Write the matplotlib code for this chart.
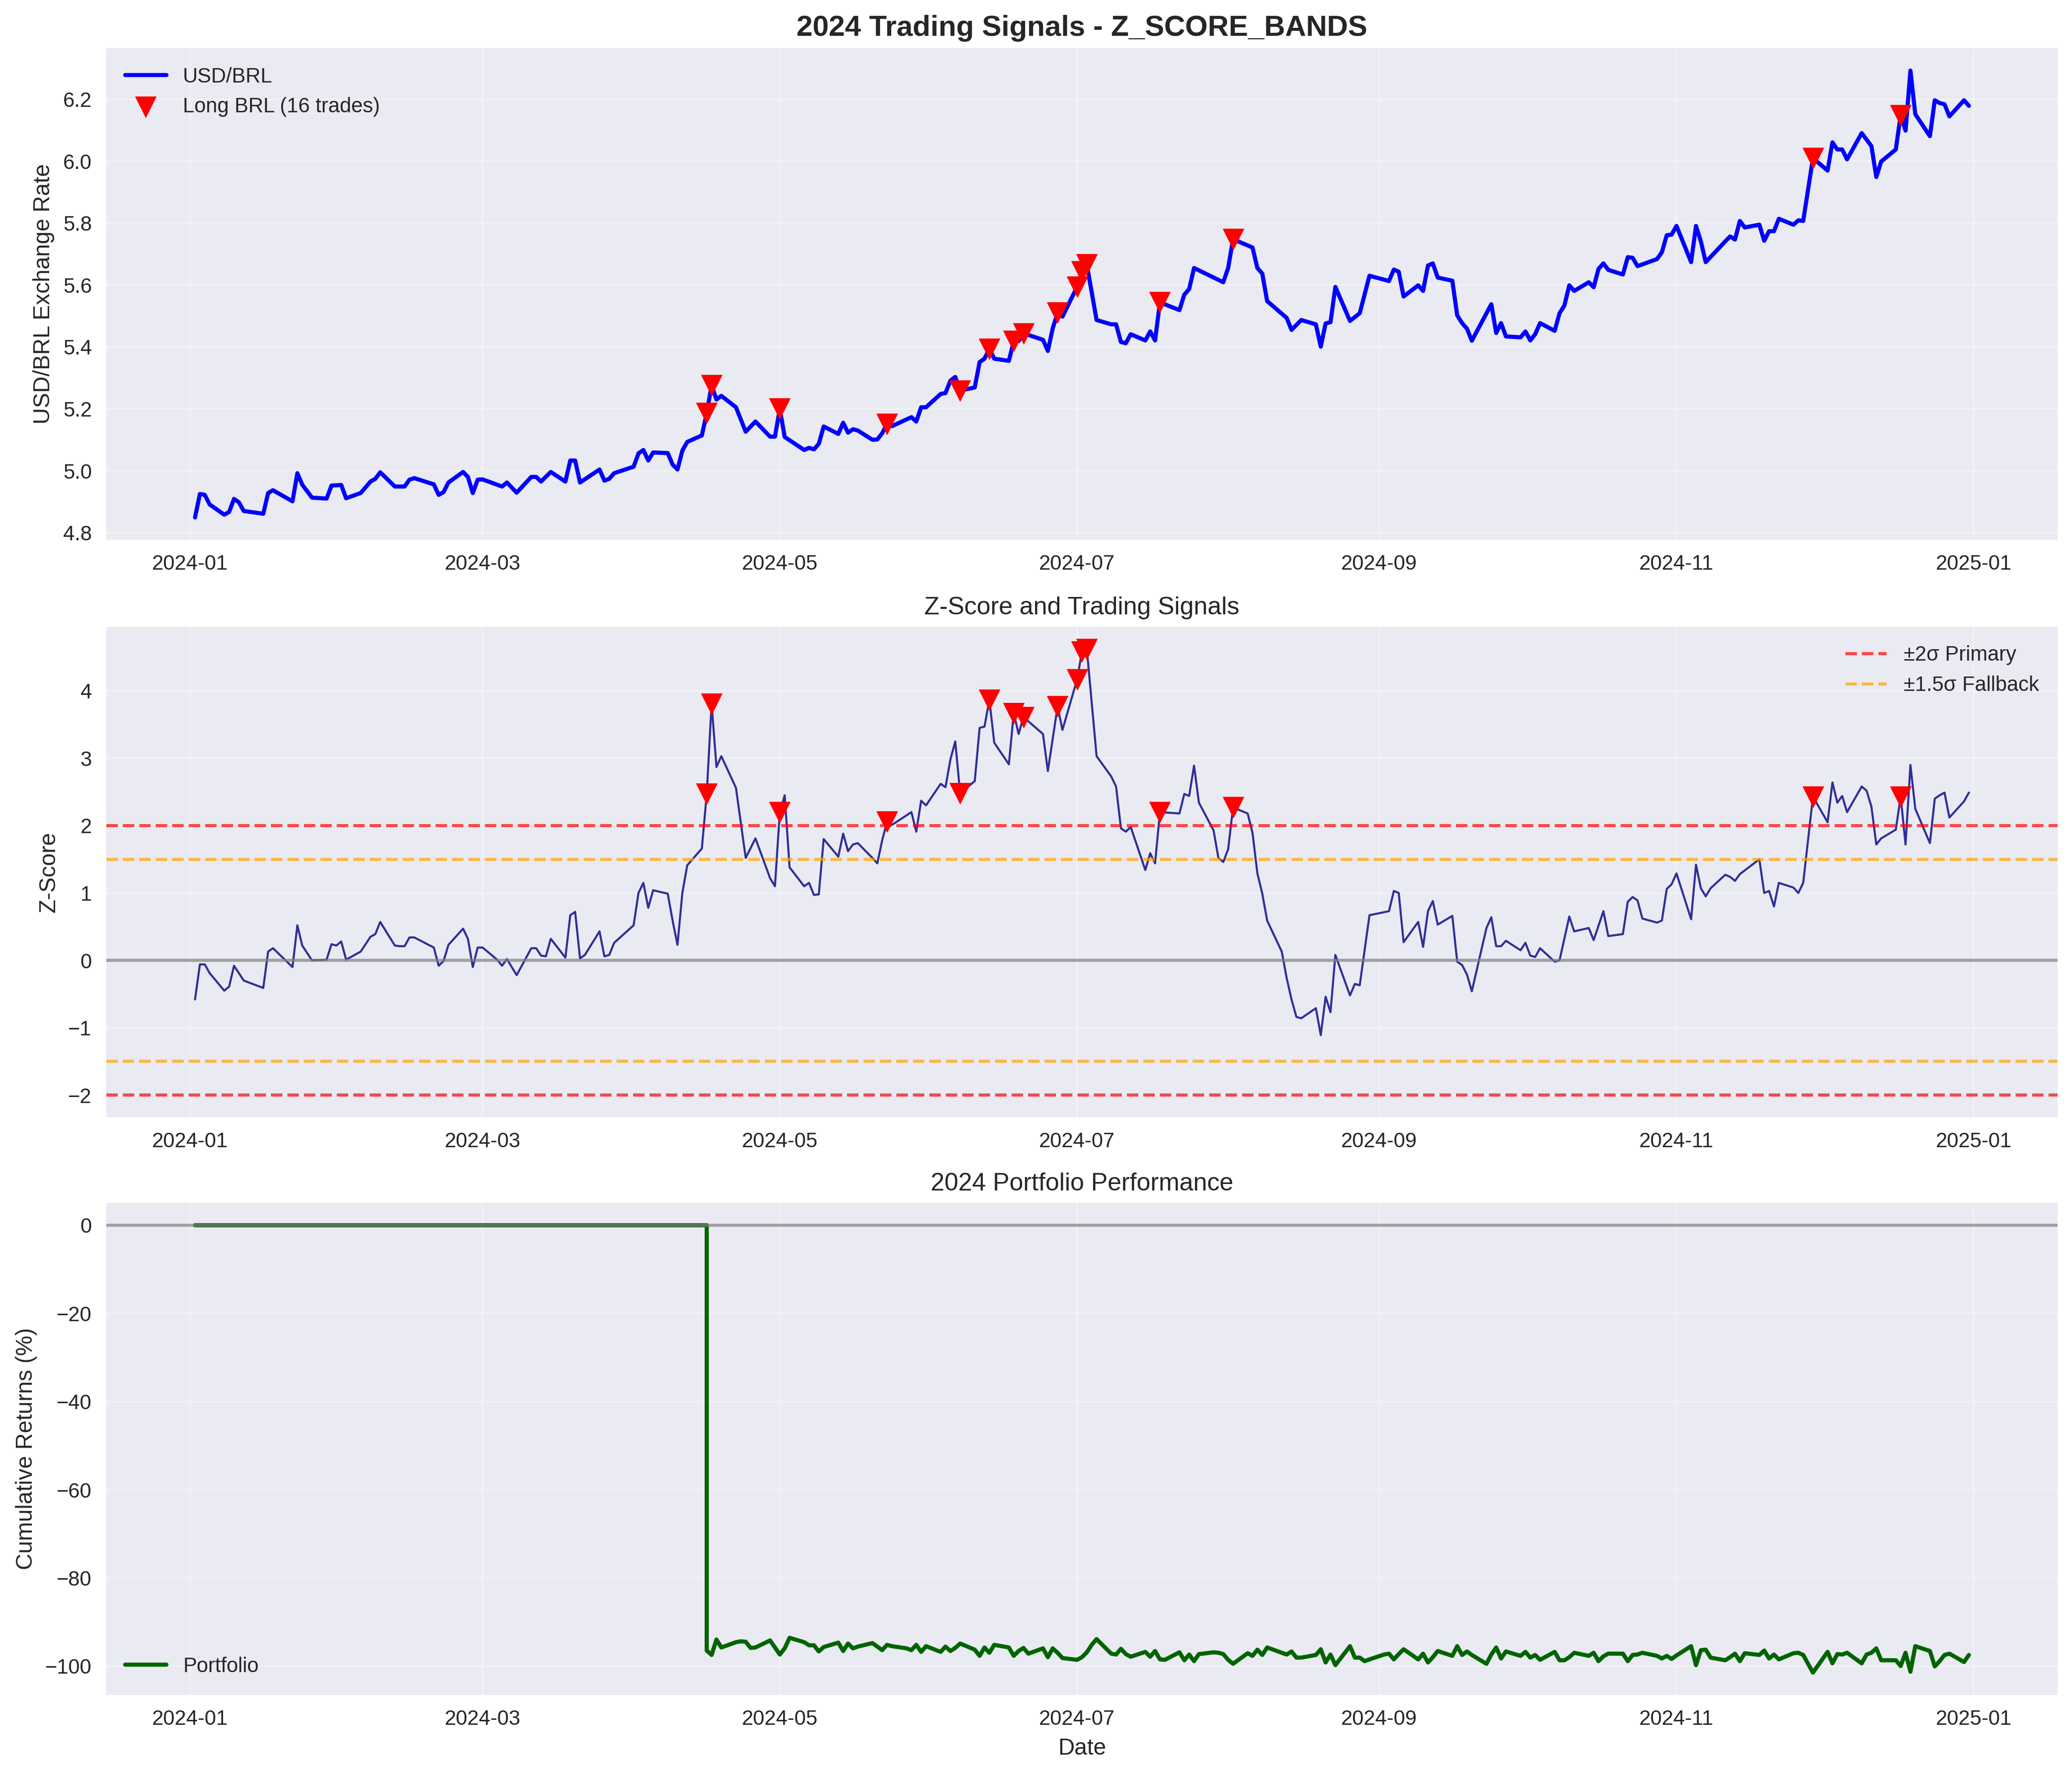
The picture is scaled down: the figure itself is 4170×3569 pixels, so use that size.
import matplotlib
matplotlib.use("Agg")
import matplotlib.pyplot as plt
import matplotlib.dates as mdates
import pandas as pd

plt.style.use("seaborn-v0_8")
plt.rcParams["font.family"] = ["Liberation Sans", "DejaVu Sans"]

# ---------------- data ----------------
price_dates = [
    "01-02", "01-03", "01-04", "01-05", "01-08", "01-09", "01-10", "01-11", "01-12", "01-16",
    "01-17", "01-18", "01-22", "01-23", "01-24", "01-26", "01-29", "01-30", "02-01", "02-02",
    "02-05", "02-07", "02-08", "02-09", "02-12", "02-14", "02-15", "02-16", "02-20", "02-21",
    "02-22", "02-23", "02-26", "02-27", "02-28", "02-29", "03-01", "03-05", "03-06", "03-08",
    "03-11", "03-12", "03-13", "03-15", "03-18", "03-19", "03-20", "03-21", "03-25", "03-26",
    "03-27", "03-28", "04-01", "04-02", "04-03", "04-04", "04-05", "04-08", "04-09", "04-10",
    "04-11", "04-12", "04-15", "04-16", "04-17", "04-18", "04-19", "04-22", "04-24", "04-26",
    "04-29", "04-30", "05-01", "05-02", "05-06", "05-07", "05-08", "05-09", "05-10", "05-13",
    "05-14", "05-15", "05-16", "05-17", "05-20", "05-21", "05-22", "05-23", "05-24", "05-28",
    "05-29", "05-30", "05-31", "06-03", "06-04", "06-05", "06-06", "06-07", "06-10", "06-11",
    "06-12", "06-13", "06-14", "06-17", "06-18", "06-19", "06-20", "06-24", "06-25", "06-26",
    "06-27", "06-28", "07-01", "07-02", "07-03", "07-05", "07-08", "07-09", "07-10", "07-11",
    "07-12", "07-15", "07-16", "07-17", "07-18", "07-22", "07-23", "07-24", "07-25", "07-31",
    "08-01", "08-02", "08-05", "08-06", "08-07", "08-08", "08-09", "08-13", "08-14", "08-16",
    "08-19", "08-20", "08-21", "08-22", "08-23", "08-26", "08-28", "08-30", "09-03", "09-04",
    "09-05", "09-06", "09-09", "09-10", "09-11", "09-12", "09-13", "09-16", "09-17", "09-18",
    "09-19", "09-20", "09-24", "09-25", "09-26", "09-27", "09-30", "10-01", "10-02", "10-03",
    "10-04", "10-07", "10-08", "10-09", "10-10", "10-11", "10-14", "10-15", "10-16", "10-17",
    "10-18", "10-21", "10-22", "10-23", "10-24", "10-28", "10-29", "10-30", "10-31", "11-01",
    "11-04", "11-05", "11-06", "11-07", "11-11", "11-12", "11-13", "11-14", "11-15", "11-18",
    "11-19", "11-20", "11-21", "11-22", "11-25", "11-26", "11-27", "11-29", "12-02", "12-03",
    "12-04", "12-05", "12-06", "12-09", "12-10", "12-11", "12-12", "12-13", "12-16", "12-17",
    "12-18", "12-19", "12-20", "12-23", "12-24", "12-25", "12-26", "12-27", "12-30", "12-31",
]
price_values = [
    4.849, 4.925, 4.922, 4.891, 4.858, 4.867, 4.909, 4.898, 4.870, 4.861,
    4.928, 4.937, 4.901, 4.992, 4.955, 4.913, 4.910, 4.952, 4.954, 4.911,
    4.928, 4.965, 4.974, 4.995, 4.949, 4.949, 4.971, 4.976, 4.956, 4.922,
    4.931, 4.962, 4.996, 4.980, 4.928, 4.971, 4.972, 4.949, 4.962, 4.929,
    4.980, 4.980, 4.965, 4.996, 4.965, 5.033, 5.033, 4.962, 5.004, 4.968,
    4.974, 4.992, 5.013, 5.056, 5.067, 5.033, 5.059, 5.057, 5.020, 5.004,
    5.065, 5.093, 5.114, 5.186, 5.276, 5.230, 5.242, 5.205, 5.126, 5.159,
    5.110, 5.110, 5.200, 5.109, 5.067, 5.074, 5.069, 5.087, 5.143, 5.119,
    5.155, 5.123, 5.134, 5.130, 5.100, 5.101, 5.121, 5.151, 5.144, 5.173,
    5.159, 5.205, 5.205, 5.248, 5.251, 5.291, 5.303, 5.259, 5.269, 5.351,
    5.362, 5.394, 5.362, 5.355, 5.419, 5.419, 5.444, 5.423, 5.387, 5.460,
    5.510, 5.498, 5.594, 5.644, 5.666, 5.487, 5.473, 5.473, 5.416, 5.412,
    5.441, 5.421, 5.450, 5.421, 5.544, 5.519, 5.569, 5.587, 5.655, 5.609,
    5.655, 5.748, 5.728, 5.721, 5.655, 5.637, 5.548, 5.494, 5.455, 5.487,
    5.473, 5.401, 5.476, 5.480, 5.594, 5.484, 5.509, 5.630, 5.613, 5.650,
    5.643, 5.563, 5.599, 5.581, 5.663, 5.670, 5.624, 5.614, 5.502, 5.477,
    5.459, 5.420, 5.538, 5.445, 5.477, 5.434, 5.431, 5.450, 5.421, 5.441,
    5.477, 5.452, 5.509, 5.534, 5.599, 5.581, 5.609, 5.593, 5.652, 5.670,
    5.649, 5.634, 5.690, 5.688, 5.661, 5.684, 5.706, 5.761, 5.763, 5.791,
    5.674, 5.791, 5.741, 5.674, 5.741, 5.757, 5.747, 5.807, 5.786, 5.795,
    5.743, 5.774, 5.774, 5.814, 5.795, 5.809, 5.807, 6.010, 5.970, 6.061,
    6.038, 6.038, 6.006, 6.091, 6.070, 6.049, 5.949, 5.999, 6.038, 6.149,
    6.099, 6.293, 6.152, 6.081, 6.197, 6.188, 6.184, 6.145, 6.197, 6.179,
]

z_dates = [
    "01-02", "01-03", "01-04", "01-05", "01-08", "01-09", "01-10", "01-11", "01-12", "01-16",
    "01-17", "01-18", "01-22", "01-23", "01-24", "01-26", "01-29", "01-30", "01-31", "02-01",
    "02-02", "02-05", "02-07", "02-08", "02-09", "02-12", "02-13", "02-14", "02-15", "02-16",
    "02-20", "02-21", "02-22", "02-23", "02-26", "02-27", "02-28", "02-29", "03-01", "03-04",
    "03-05", "03-06", "03-08", "03-11", "03-12", "03-13", "03-14", "03-15", "03-18", "03-19",
    "03-20", "03-21", "03-22", "03-25", "03-26", "03-27", "03-28", "04-01", "04-02", "04-03",
    "04-04", "04-05", "04-08", "04-09", "04-10", "04-11", "04-12", "04-15", "04-16", "04-17",
    "04-18", "04-19", "04-22", "04-24", "04-26", "04-29", "04-30", "05-01", "05-02", "05-03",
    "05-06", "05-07", "05-08", "05-09", "05-10", "05-13", "05-14", "05-15", "05-16", "05-17",
    "05-20", "05-21", "05-22", "05-23", "05-24", "05-28", "05-29", "05-30", "05-31", "06-03",
    "06-04", "06-05", "06-06", "06-07", "06-10", "06-11", "06-12", "06-13", "06-14", "06-17",
    "06-18", "06-19", "06-20", "06-24", "06-25", "06-27", "06-28", "07-01", "07-02", "07-03",
    "07-05", "07-08", "07-09", "07-10", "07-11", "07-12", "07-15", "07-16", "07-17", "07-18",
    "07-22", "07-23", "07-24", "07-25", "07-26", "07-29", "07-30", "07-31", "08-01", "08-02",
    "08-05", "08-06", "08-07", "08-08", "08-09", "08-12", "08-13", "08-14", "08-15", "08-16",
    "08-19", "08-20", "08-21", "08-22", "08-23", "08-26", "08-27", "08-28", "08-30", "09-03",
    "09-04", "09-05", "09-06", "09-09", "09-10", "09-11", "09-12", "09-13", "09-16", "09-17",
    "09-18", "09-19", "09-20", "09-23", "09-24", "09-25", "09-26", "09-27", "09-30", "10-01",
    "10-02", "10-03", "10-04", "10-07", "10-08", "10-10", "10-11", "10-14", "10-15", "10-17",
    "10-18", "10-21", "10-22", "10-23", "10-24", "10-25", "10-28", "10-29", "10-30", "10-31",
    "11-01", "11-04", "11-05", "11-06", "11-07", "11-08", "11-11", "11-12", "11-13", "11-14",
    "11-18", "11-19", "11-20", "11-21", "11-22", "11-25", "11-26", "11-27", "11-29", "12-02",
    "12-03", "12-04", "12-05", "12-06", "12-09", "12-10", "12-11", "12-12", "12-13", "12-16",
    "12-17", "12-18", "12-19", "12-20", "12-23", "12-24", "12-25", "12-26", "12-27", "12-30",
    "12-31",
]
z_values = [
    -0.58, -0.06, -0.06, -0.19, -0.45, -0.39, -0.08, -0.19, -0.30, -0.41,
    0.13, 0.18, -0.10, 0.52, 0.22, 0.00, 0.01, 0.24, 0.22, 0.28,
    0.01, 0.13, 0.35, 0.39, 0.57, 0.22, 0.21, 0.21, 0.34, 0.34,
    0.19, -0.08, -0.01, 0.23, 0.47, 0.32, -0.10, 0.19, 0.19, 0.01,
    -0.08, 0.02, -0.22, 0.18, 0.18, 0.07, 0.06, 0.32, 0.04, 0.67,
    0.72, 0.03, 0.08, 0.43, 0.06, 0.08, 0.26, 0.52, 1.00, 1.15,
    0.78, 1.04, 0.99, 0.59, 0.23, 1.00, 1.41, 1.66, 2.47, 3.81,
    2.87, 3.03, 2.56, 1.52, 1.81, 1.22, 1.10, 2.20, 2.45, 1.38,
    1.10, 1.15, 0.97, 0.98, 1.80, 1.54, 1.88, 1.62, 1.72, 1.74,
    1.52, 1.44, 1.78, 2.06, 2.01, 2.20, 1.91, 2.37, 2.30, 2.62,
    2.57, 2.98, 3.25, 2.48, 2.66, 3.45, 3.47, 3.87, 3.23, 2.91,
    3.67, 3.36, 3.61, 3.36, 2.81, 3.77, 3.42, 4.17, 4.58, 4.62,
    3.03, 2.73, 2.58, 1.96, 1.91, 1.98, 1.34, 1.59, 1.44, 2.20,
    2.18, 2.47, 2.44, 2.89, 2.34, 1.93, 1.52, 1.46, 1.65, 2.27,
    2.18, 1.89, 1.29, 0.99, 0.59, 0.13, -0.26, -0.58, -0.84, -0.86,
    -0.71, -1.11, -0.54, -0.77, 0.08, -0.52, -0.35, -0.37, 0.67, 0.73,
    1.03, 1.00, 0.27, 0.57, 0.20, 0.73, 0.88, 0.53, 0.66, -0.02,
    -0.07, -0.21, -0.46, 0.48, 0.64, 0.21, 0.21, 0.29, 0.15, 0.26,
    0.07, 0.05, 0.18, -0.02, 0.00, 0.65, 0.43, 0.48, 0.30, 0.73,
    0.36, 0.39, 0.87, 0.94, 0.89, 0.62, 0.56, 0.59, 1.06, 1.13,
    1.29, 0.61, 1.42, 1.07, 0.95, 1.07, 1.27, 1.24, 1.18, 1.28,
    1.50, 1.00, 1.03, 0.80, 1.15, 1.08, 1.00, 1.15, 2.43, 2.05,
    2.64, 2.34, 2.44, 2.20, 2.58, 2.52, 2.28, 1.72, 1.81, 1.94,
    2.43, 1.72, 2.90, 2.25, 1.74, 2.40, 2.45, 2.49, 2.12, 2.36,
    2.49,
]

port_dates = [
    "01-02", "04-16", "04-16", "04-17", "04-18", "04-19", "04-22", "04-23", "04-24", "04-25",
    "04-26", "04-29", "04-30", "05-01", "05-02", "05-03", "05-06", "05-07", "05-08", "05-09",
    "05-10", "05-13", "05-14", "05-15", "05-16", "05-17", "05-20", "05-21", "05-22", "05-23",
    "05-24", "05-27", "05-28", "05-29", "05-30", "05-31", "06-03", "06-04", "06-05", "06-06",
    "06-07", "06-10", "06-11", "06-12", "06-13", "06-14", "06-17", "06-18", "06-19", "06-20",
    "06-21", "06-24", "06-25", "06-26", "06-27", "06-28", "07-01", "07-02", "07-03", "07-04",
    "07-05", "07-08", "07-09", "07-10", "07-11", "07-12", "07-15", "07-16", "07-17", "07-18",
    "07-19", "07-22", "07-23", "07-24", "07-25", "07-26", "07-29", "07-30", "07-31", "08-01",
    "08-02", "08-05", "08-06", "08-07", "08-08", "08-09", "08-12", "08-13", "08-14", "08-15",
    "08-16", "08-19", "08-20", "08-21", "08-22", "08-23", "08-26", "08-27", "08-28", "08-29",
    "08-30", "09-02", "09-03", "09-04", "09-05", "09-06", "09-09", "09-10", "09-11", "09-12",
    "09-13", "09-16", "09-17", "09-18", "09-19", "09-20", "09-23", "09-24", "09-25", "09-26",
    "09-27", "09-30", "10-01", "10-02", "10-03", "10-04", "10-07", "10-08", "10-09", "10-10",
    "10-11", "10-14", "10-15", "10-16", "10-17", "10-18", "10-21", "10-22", "10-23", "10-24",
    "10-25", "10-28", "10-29", "10-30", "10-31", "11-01", "11-04", "11-05", "11-06", "11-07",
    "11-08", "11-11", "11-12", "11-13", "11-14", "11-15", "11-18", "11-19", "11-20", "11-21",
    "11-22", "11-25", "11-26", "11-27", "11-29", "12-02", "12-03", "12-04", "12-05", "12-06",
    "12-09", "12-10", "12-11", "12-12", "12-13", "12-16", "12-17", "12-18", "12-19", "12-20",
    "12-23", "12-24", "12-25", "12-26", "12-27", "12-30", "12-31",
]
port_values = [
    0.0, 0.0, -96.5, -97.5, -94.0, -95.8, -94.6, -94.4, -94.5, -95.9,
    -95.8, -94.2, -95.8, -97.4, -96.0, -93.6, -94.6, -95.3, -95.3, -96.7,
    -95.7, -94.7, -96.6, -94.9, -96.0, -95.6, -94.8, -95.6, -96.4, -95.2,
    -95.5, -96.0, -96.4, -95.2, -96.8, -95.5, -96.8, -95.6, -96.6, -95.9,
    -94.9, -96.3, -97.7, -95.8, -97.0, -95.2, -95.8, -97.7, -96.6, -95.9,
    -97.2, -96.0, -98.0, -96.0, -97.0, -98.2, -98.6, -98.0, -96.9, -95.2,
    -93.9, -97.2, -97.4, -96.1, -97.3, -97.9, -96.8, -97.9, -96.6, -98.5,
    -98.6, -96.9, -98.7, -97.4, -98.9, -97.3, -96.9, -97.0, -97.3, -98.6,
    -99.5, -97.1, -97.7, -96.3, -97.5, -95.8, -97.0, -97.4, -96.7, -98.1,
    -98.1, -97.5, -96.2, -99.2, -97.4, -99.8, -95.5, -98.1, -98.1, -98.9,
    -98.5, -97.4, -97.2, -98.5, -97.3, -96.2, -98.5, -97.2, -99.2, -98.0,
    -96.6, -97.7, -95.5, -97.5, -96.7, -97.5, -99.5, -97.4, -95.8, -98.3,
    -96.7, -97.7, -96.8, -98.1, -97.5, -98.6, -96.8, -98.7, -98.7, -98.0,
    -97.0, -97.7, -97.0, -98.9, -97.8, -97.2, -97.2, -98.9, -97.5, -97.4,
    -97.0, -97.7, -98.3, -97.7, -98.4, -97.6, -95.5, -99.8, -96.4, -96.3,
    -98.1, -98.7, -98.0, -97.2, -98.9, -97.1, -97.5, -96.5, -98.3, -97.4,
    -98.5, -97.1, -97.0, -97.5, -101.5, -96.8, -99.4, -97.3, -97.4, -97.0,
    -99.4, -97.4, -97.0, -96.0, -98.7, -98.7, -100.0, -97.0, -101.3, -95.5,
    -96.6, -100.1, -98.9, -97.5, -97.2, -99.1, -97.5,
]

signal_dates = ["04-16", "04-17", "05-01", "05-23", "06-07", "06-13", "06-18", "06-20",
                "06-27", "07-01", "07-02", "07-03", "07-18", "08-02", "11-29", "12-17"]

primary_band = 2.0
fallback_band = 1.5

# ---------------- build ----------------
def to_dt(lst):
    return pd.to_datetime(["2024-" + d for d in lst])

price = pd.Series(price_values, index=to_dt(price_dates))
zscore = pd.Series(z_values, index=to_dt(z_dates))
port = pd.Series(port_values, index=to_dt(port_dates))
sig = to_dt(signal_dates)

W, H = 4170, 3569
fig = plt.figure(figsize=(W / 300, H / 300), dpi=300)
left, right = 214 / W, 4141 / W
def pos(top, bottom):
    return [left, 1 - bottom / H, right - left, (bottom - top) / H]

ax1 = fig.add_axes(pos(97, 1086))
ax2 = fig.add_axes(pos(1261, 2248))
ax3 = fig.add_axes(pos(2420, 3410))

# Panel 1
ax1.plot(price.index, price.values, color="blue", linewidth=2, label="USD/BRL")
ax1.scatter(sig, price.loc[sig].values, marker="v", color="red", s=100, zorder=5,
            label=f"Long BRL ({len(signal_dates)} trades)")
ax1.set_title("2024 Trading Signals - Z_SCORE_BANDS", fontsize=14, fontweight="bold")
ax1.set_ylabel("USD/BRL Exchange Rate")
ax1.legend(loc="upper left")
ax1.grid(True, alpha=0.3)

# Panel 2
ax2.plot(zscore.index, zscore.values, color="navy", linewidth=1, alpha=0.8)
ax2.axhline(primary_band, color="red", linestyle="--", alpha=0.7, linewidth=1.5, label="±2σ Primary")
ax2.axhline(-primary_band, color="red", linestyle="--", alpha=0.7, linewidth=1.5)
ax2.axhline(fallback_band, color="orange", linestyle="--", alpha=0.7, linewidth=1.5, label="±1.5σ Fallback")
ax2.axhline(-fallback_band, color="orange", linestyle="--", alpha=0.7, linewidth=1.5)
ax2.axhline(0, color="gray", linestyle="-", alpha=0.7, linewidth=1.5)
ax2.scatter(sig, zscore.loc[sig].values, marker="v", color="red", s=100, zorder=5)
ax2.set_title("Z-Score and Trading Signals")
ax2.set_ylabel("Z-Score")
ax2.legend(loc="upper right")
ax2.grid(True, alpha=0.3)

# Panel 3
ax3.plot(port.index, port.values, color="darkgreen", linewidth=2, label="Portfolio")
ax3.axhline(0, color="gray", linestyle="-", alpha=0.7, linewidth=1.5)
ax3.set_title("2024 Portfolio Performance")
ax3.set_ylabel("Cumulative Returns (%)")
ax3.set_xlabel("Date")
ax3.legend(loc="lower left")
ax3.grid(True, alpha=0.3)

for ax in (ax1, ax2, ax3):
    ax.xaxis.set_major_locator(mdates.MonthLocator(bymonth=[1, 3, 5, 7, 9, 11]))
    ax.xaxis.set_major_formatter(mdates.DateFormatter("%Y-%m"))

fig.savefig("out.png", dpi=300)
